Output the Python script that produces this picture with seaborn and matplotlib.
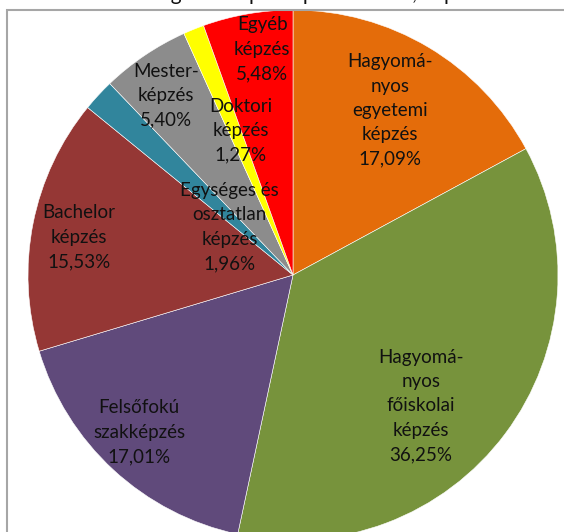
import matplotlib
matplotlib.use("Agg")
import matplotlib.pyplot as plt
import matplotlib.patches as mpatches
import numpy as np
import seaborn as sns

# ---- data ----
categories = [
    "Hagyomá-\nnyos\negyetemi\nképzés",
    "Hagyomá-\nnyos\nfőiskolai\nképzés",
    "Felsőfokú\nszakképzés",
    "Bachelor\nképzés",
    "Egységes és\nosztatlan\nképzés",
    "Mester-\nképzés",
    "Doktori\nképzés",
    "Egyéb\nképzés",
]
values = [17.09, 36.25, 17.01, 15.53, 1.96, 5.40, 1.27, 5.48]
value_labels = ["17,09%", "36,25%", "17,01%", "15,53%", "1,96%", "5,40%", "1,27%", "5,48%"]
title_text = "Összetétel a hallgatók képzéstípusa szerint, képzési forma szerint"

# ---- style ----
colors = ["#E46C0A", "#77933C", "#604A7B", "#953735", "#31859C", "#8C8C8C", "#FFFF00", "#FF0000"]
label_dist = [0.72, 0.69, 0.83, 0.82, 0.30, 0.83, 0.58, 0.86]
label_angle_off = [0.3, -8.9, -1.7, 1.2, 5.7, 1.3, -2.0, -2.1]

sns.set_theme(style="white")
plt.rcParams["font.family"] = ["Lato", "DejaVu Sans"]

W, H = 564, 532
fig = plt.figure(figsize=(W / 100, H / 100), dpi=100)
ax = fig.add_axes([0, 0, 1, 1])

cx, cy, R = 293, H - 275, 265
palette = sns.color_palette(colors)
wedges, _ = ax.pie(values, colors=palette, startangle=90, counterclock=False,
                   center=(cx, cy), radius=R, frame=True,
                   wedgeprops=dict(edgecolor="white", linewidth=0.4))

for w, cat, vl, d, off in zip(wedges, categories, value_labels, label_dist, label_angle_off):
    theta = np.deg2rad((w.theta1 + w.theta2) / 2 + off)
    x = cx + d * R * np.cos(theta)
    y = cy + d * R * np.sin(theta)
    ax.text(x, y, cat + "\n" + vl, ha="center", va="center", fontsize=13.5,
            linespacing=1.52, color="#111111")

ax.set_xlim(0, W)
ax.set_ylim(0, H)
ax.set_aspect("equal")
ax.axis("off")

# outer frame (partly outside the picture)
frame = mpatches.Rectangle((7 / W, -0.1), 1.2, 1 - 10 / H + 0.1, transform=fig.transFigure,
                           fill=False, edgecolor="#A6A6A6", linewidth=1.5)
fig.patches.append(frame)

# chart title, cut off by the top edge as in the reference
fig.text(20 / W, 1 - 3.5 / H, title_text, ha="left", va="bottom", fontsize=15, color="#111111")

fig.savefig("out.png", dpi=100, facecolor="white")
